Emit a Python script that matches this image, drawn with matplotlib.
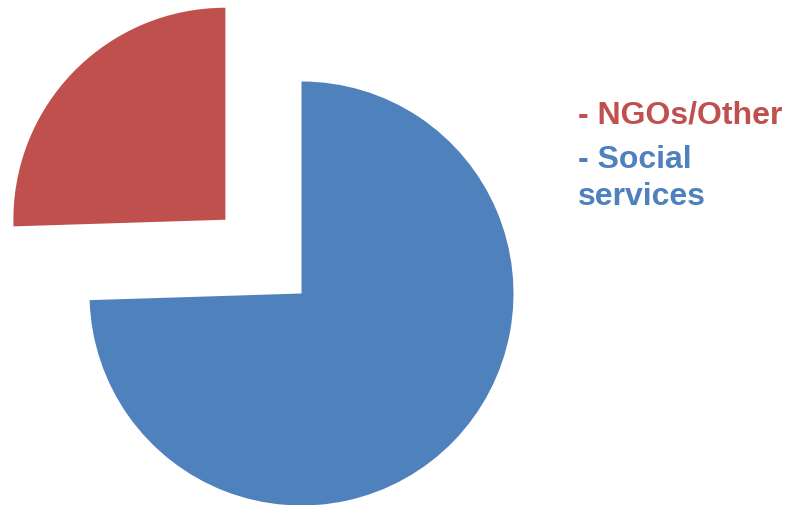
import matplotlib
matplotlib.use("Agg")
import matplotlib.pyplot as plt

labels = ["NGOs/Other", "Social\nservices"]
values = [25.5, 74.5]
colors = ["#C0504D", "#4F81BD"]
explode_frac = [0.5, 0]

W, H = 786, 505
R = 212
fig = plt.figure(figsize=(W / 100, H / 100), dpi=100)
ax = fig.add_axes([0, 0, 1, 1])

# pie drawn in pixel units so the circle lands where it should
ax.pie(values, colors=colors, explode=[e * R for e in explode_frac],
       startangle=90, counterclock=True, radius=R,
       center=(301.5, H - 293.5), wedgeprops=dict(linewidth=0), frame=True)
ax.set_xlim(0, W)
ax.set_ylim(0, H)
ax.set_aspect("equal")
ax.axis("off")

# legend as coloured text (y = baseline of last line, px from top)
ys = [123, 205]
for lab, col, y in zip(labels, colors, ys):
    fig.text(578 / W, 1 - y / H, "- " + lab, color=col, fontsize=23,
             fontweight="bold", family=["Liberation Sans", "DejaVu Sans"],
             va="baseline", ha="left", linespacing=1.3)

fig.savefig("out.png", dpi=100)
